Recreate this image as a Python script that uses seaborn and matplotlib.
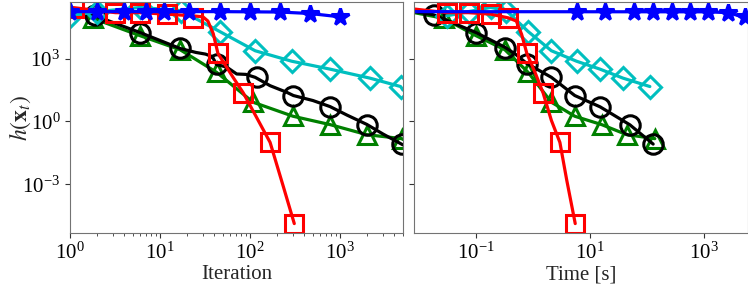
import numpy as np
import pandas as pd
import matplotlib
matplotlib.use("Agg")
import matplotlib.pyplot as plt
import matplotlib.ticker as mticker
import seaborn as sns

# ---------------- data (y stored as log10 h) ----------------
# Black (circles)
black_iter_line = [1, 1.9, 6, 16.7, 25, 32, 38, 42.5, 55, 71, 90, 114, 167, 254, 303, 500, 775, 1200, 1980, 3000, 5000]
black_logy_line = [5.29, 5.05, 4.25, 3.49, 3.3, 3.22, 3.1, 2.72, 2.6, 2.27, 2.25, 2.11, 1.71, 1.4, 1.24, 1.0, 0.71, 0.3, -0.14, -0.6, -1.12]
black_iter_mk = [1.9, 6, 16.7, 42.5, 119, 303, 775, 1980, 4850]
black_time_line = [0.0083, 0.018, 0.1, 0.32, 0.5, 0.77, 2.1, 5.4, 15, 50, 128]
black_logy_tline = [5.25, 5.1, 4.25, 3.55, 3.2, 2.78, 2.11, 1.24, 0.7, -0.16, -1.08]
black_time_mk = [0.018, 0.1, 0.32, 0.77, 2.1, 5.4, 15, 50, 128]
black_logy_mk = [5.1, 4.25, 3.52, 2.76, 2.11, 1.24, 0.7, -0.16, -1.08]

# Green (triangles)
green_iter_mk = [1.8, 6, 16.7, 42.5, 108, 300, 775, 1980, 4850]
green_time_mk = [0.027, 0.1, 0.32, 0.82, 2.1, 5.4, 16, 44, 137]
green_logy_mk = [4.93, 4.1, 3.43, 2.35, 0.92, 0.25, -0.15, -0.63, -0.82]
green_iter_line = [1] + green_iter_mk + [5000]
green_logy_iline = [5.2] + green_logy_mk + [-0.86]
green_time_line = [0.0083] + green_time_mk
green_logy_tline = [5.2] + green_logy_mk

# Cyan (diamonds)
cyan_iter_mk = [1, 2, 6, 17, 46, 114, 290, 776, 2150, 4700]
cyan_time_mk = [0.031, 0.074, 0.18, 0.34, 0.82, 2.1, 5.8, 15, 38, 112]
cyan_logy_mk = [5.05, 5.25, 5.45, 5.3, 4.3, 3.38, 2.88, 2.5, 2.07, 1.67]
cyan_iter_line = cyan_iter_mk + [5000]
cyan_logy_iline = cyan_logy_mk + [1.5]

# Red (squares)
red_iter_mk = [1.1, 3.2, 6, 11.9, 23, 44, 84, 167, 310]
red_time_mk = [0.005, 0.031, 0.074, 0.18, 0.37, 0.78, 1.5, 2.96, 5.5]
red_logy_mk = [5.44, 5.2, 5.2, 5.13, 4.95, 3.25, 1.37, -1.0, -4.88]
red_iter_line = [1.1, 3.2, 6, 11.9, 23, 30, 34, 39, 44, 65, 84, 118, 167, 235, 310]
red_logy_iline = [5.44, 5.2, 5.2, 5.13, 5.05, 5.0, 4.8, 4.2, 3.25, 2.1, 1.37, 0.2, -1.0, -3.13, -4.88]
red_time_line = [0.005, 0.031, 0.074, 0.18, 0.37, 0.51, 0.63, 0.78, 1.1, 1.5, 2.1, 2.96, 3.9, 5.5]
red_logy_tline = [5.44, 5.2, 5.2, 5.13, 4.95, 4.8, 4.17, 3.25, 2.3, 1.37, 0.05, -1.0, -2.8, -4.88]

# Blue (stars)
blue_iter_mk = [1, 2, 4, 7, 11, 21, 46, 100, 215, 464, 1000]
blue_logy_imk = [5.25, 5.25, 5.25, 5.25, 5.25, 5.25, 5.25, 5.24, 5.23, 5.16, 5.0]
blue_time_mk = [5.8, 18.6, 58, 126, 270, 560, 1170, 2630, 5250]
blue_logy_tmk = [5.25, 5.25, 5.25, 5.25, 5.25, 5.25, 5.24, 5.2, 4.97]
blue_time_line = [0.005, 1170, 2630, 5250, 6000]
blue_logy_tline = [5.25, 5.24, 5.2, 4.97, 4.9]

xlabels = ["Iteration", "Time [s]"]
ylabel = r"$h(\mathbf{x}_t)$"

# ---------------- style ----------------
sns.set_style("ticks")
plt.rcParams["font.family"] = ["Liberation Serif", "DejaVu Serif"]
plt.rcParams["mathtext.fontset"] = "stix"
plt.rcParams["axes.edgecolor"] = "0.45"
plt.rcParams["xtick.color"] = "0.2"
plt.rcParams["ytick.color"] = "0.2"
plt.rcParams["xtick.labelcolor"] = "black"
plt.rcParams["ytick.labelcolor"] = "black"

FS = 15
fig = plt.figure(figsize=(7.48, 2.85), dpi=100)
axL = fig.add_axes([70 / 748, 52 / 285, 333 / 748, 231 / 285])
axR = fig.add_axes([414 / 748, 52 / 285, 334 / 748, 231 / 285], sharey=axL)

LW = 2.3
MEW = 2.2


def line(ax, x, ly, c):
    sns.lineplot(x=np.asarray(x, float), y=10 ** np.asarray(ly, float), ax=ax,
                 color=c, lw=LW, sort=False, estimator=None)


def marks(ax, x, ly, c, m, ms, filled=False):
    sns.lineplot(x=np.asarray(x, float), y=10 ** np.asarray(ly, float), ax=ax,
                 color=c, linestyle="", marker=m, markersize=ms,
                 markerfacecolor=(c if filled else "none"), markeredgecolor=c,
                 markeredgewidth=MEW, sort=False, estimator=None)


# left panel: iteration
line(axL, green_iter_line, green_logy_iline, "g")
marks(axL, green_iter_mk, green_logy_mk, "g", "^", 12.5)
line(axL, black_iter_line, black_logy_line, "k")
marks(axL, black_iter_mk, black_logy_mk, "k", "o", 14)
line(axL, cyan_iter_line, cyan_logy_iline, "c")
marks(axL, cyan_iter_mk, cyan_logy_mk, "c", "D", 11.5)
line(axL, red_iter_line, red_logy_iline, "r")
marks(axL, red_iter_mk, red_logy_mk, "r", "s", 12.5)
line(axL, blue_iter_mk, blue_logy_imk, "b")
marks(axL, blue_iter_mk, blue_logy_imk, "b", "*", 13, filled=True)

# right panel: time
line(axR, green_time_line, green_logy_tline, "g")
marks(axR, green_time_mk, green_logy_mk, "g", "^", 12.5)
line(axR, black_time_line, black_logy_tline, "k")
marks(axR, black_time_mk, black_logy_mk, "k", "o", 14)
line(axR, cyan_time_mk, cyan_logy_mk, "c")
marks(axR, cyan_time_mk, cyan_logy_mk, "c", "D", 11.5)
line(axR, red_time_line, red_logy_tline, "r")
marks(axR, red_time_mk, red_logy_mk, "r", "s", 12.5)
line(axR, blue_time_line, blue_logy_tline, "b")
marks(axR, blue_time_mk, blue_logy_tmk, "b", "*", 13, filled=True)

for ax, xl in zip([axL, axR], xlabels):
    ax.set_xscale("log")
    ax.set_yscale("log")
    ax.set_xlabel(xl, fontsize=FS, labelpad=1)
    ax.tick_params(labelsize=FS)
    for s in ax.spines.values():
        s.set_visible(True)

axL.set_xlim(1, 5000)
axR.set_xlim(0.00817, 5900)
axL.set_ylim(10 ** -5.33, 10 ** 5.71)
axL.yaxis.set_major_locator(mticker.FixedLocator([1e-3, 1e0, 1e3]))
axL.yaxis.set_minor_locator(mticker.NullLocator())
axR.xaxis.set_major_locator(mticker.FixedLocator([1e-1, 1e1, 1e3]))
axR.xaxis.set_minor_locator(mticker.NullLocator())
axL.set_ylabel(ylabel, fontsize=17, labelpad=0)
axL.yaxis.set_label_coords(-0.11, 0.5)
axR.set_ylabel("")
plt.setp(axR.get_yticklabels(), visible=False)

fig.savefig("out.png", dpi=100)
